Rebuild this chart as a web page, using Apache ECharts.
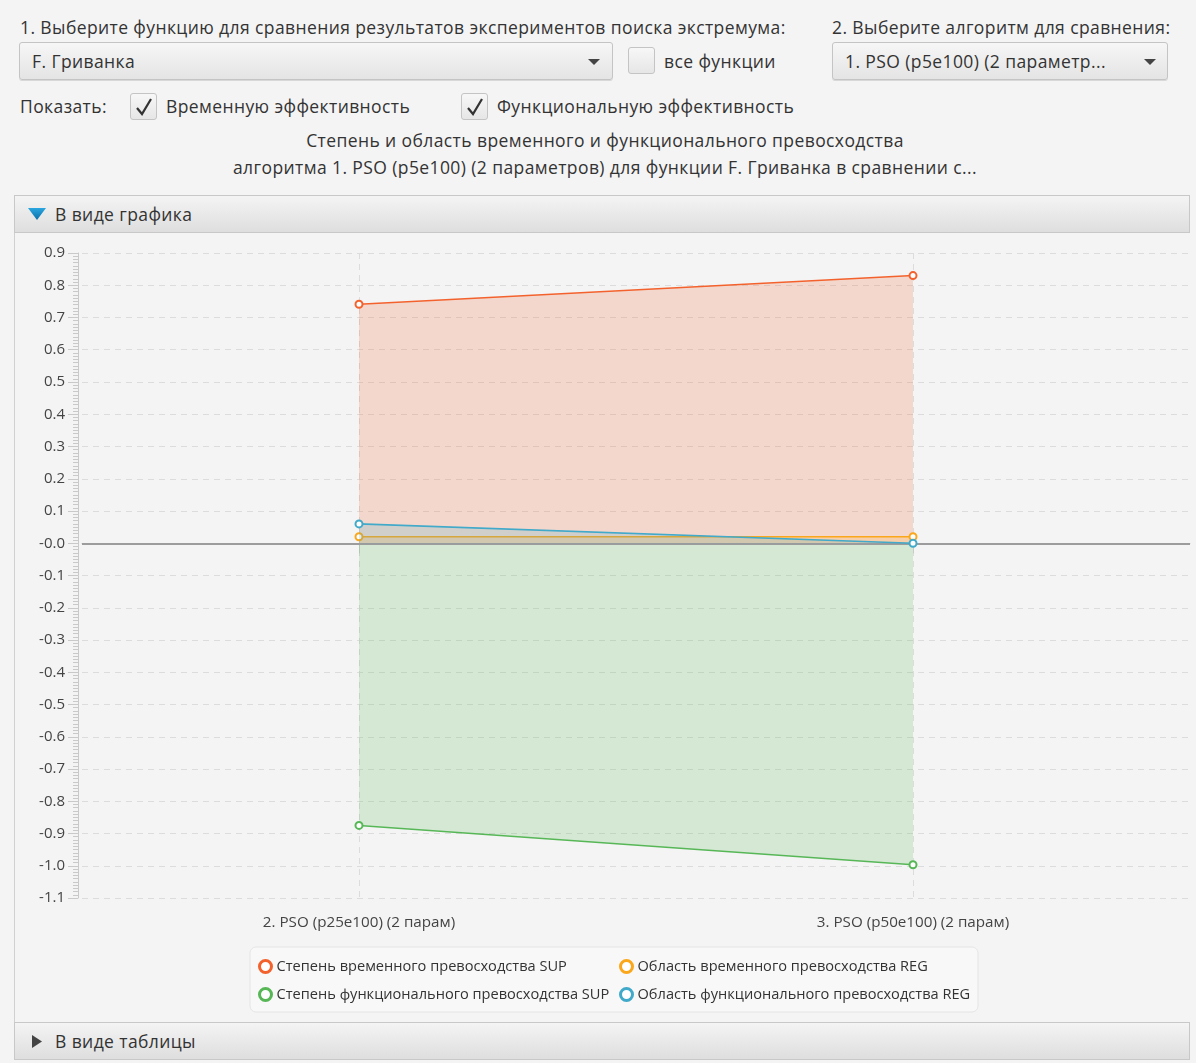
<!DOCTYPE html>
<html><head><meta charset="utf-8">
<script src="https://cdn.jsdelivr.net/npm/echarts@6/dist/echarts.min.js"></script>
<style>
html,body{margin:0;padding:0}
body{width:1196px;height:1063px;background:#f4f4f4;font-family:"Open Sans","Noto Sans",sans-serif;color:#333;overflow:hidden;position:relative}
.abs{position:absolute;white-space:nowrap}
.lbl{font-size:17.5px;line-height:22px;color:#333;letter-spacing:0.4px}
.combo{position:absolute;box-sizing:border-box;border:1px solid #c4c4c4;border-radius:3px;background:linear-gradient(#f6f6f6,#e4e4e4);box-shadow:0 1px 0 #d8d8d8}
.combo .t{position:absolute;left:12px;top:7px;font-size:17.5px;letter-spacing:0.4px;line-height:22px;color:#333;white-space:nowrap}
.combo .arr{position:absolute;top:16px;width:0;height:0;border-left:6px solid transparent;border-right:6px solid transparent;border-top:6px solid #444}
.cb{position:absolute;box-sizing:border-box;width:27px;height:27px;border:1px solid #c4c4c4;border-radius:3px;background:linear-gradient(#f7f7f7,#e6e6e6)}
.cb svg{position:absolute;left:4px;top:3px}
.hdr{position:absolute;left:14px;width:1176px;height:38px;box-sizing:border-box;border:1px solid #c8c8c8;background:linear-gradient(#f4f4f4,#dedede)}
.hdr .t{position:absolute;left:40px;top:7px;font-size:17.5px;letter-spacing:0.4px;line-height:22px;color:#333}
#chart{position:absolute;left:0;top:0;width:1196px;height:1063px}
</style></head>
<body>
<div class="abs" style="left:14px;top:233px;width:1176px;height:789px;border-left:1px solid #d0d0d0;box-sizing:border-box"></div>
<div class="abs lbl" style="left:20px;top:16px">1. Выберите функцию для сравнения результатов экспериментов поиска экстремума:</div>
<div class="abs lbl" style="left:832px;top:16px">2. Выберите алгоритм для сравнения:</div>
<div class="combo" style="left:19px;top:42px;width:594px;height:38px"><div class="t">F. Гриванка</div><div class="arr" style="left:568px"></div></div>
<div class="cb" style="left:628px;top:47px"></div>
<div class="abs lbl" style="left:664px;top:50px">все функции</div>
<div class="combo" style="left:832px;top:42px;width:336px;height:38px"><div class="t">1. PSO (p5e100) (2 параметр...</div><div class="arr" style="left:311px"></div></div>
<div class="abs lbl" style="left:20px;top:95px">Показать:</div>
<div class="cb" style="left:130px;top:93px"><svg width="18" height="20" viewBox="0 0 18 20"><polyline points="2,11 7,17 16,2" fill="none" stroke="#333" stroke-width="2.2"/></svg></div>
<div class="abs lbl" style="left:166px;top:95px">Временную эффективность</div>
<div class="cb" style="left:461px;top:93px"><svg width="18" height="20" viewBox="0 0 18 20"><polyline points="2,11 7,17 16,2" fill="none" stroke="#333" stroke-width="2.2"/></svg></div>
<div class="abs lbl" style="left:497px;top:95px">Функциональную эффективность</div>
<div class="abs lbl" style="left:0;width:1210px;text-align:center;top:129px">Степень и область временного и функционального превосходства</div>
<div class="abs lbl" style="left:0;width:1210px;text-align:center;top:156px">алгоритма 1. PSO (p5e100) (2 параметров) для функции F. Гриванка в сравнении с...</div>
<div class="hdr" style="top:195px"><svg class="abs" style="left:13px;top:12px" width="18" height="12" viewBox="0 0 18 12"><defs><linearGradient id="g" x1="0" y1="0" x2="0" y2="1"><stop offset="0" stop-color="#2aa6e0"/><stop offset="1" stop-color="#0a6fa8"/></linearGradient></defs><polygon points="0,0 18,0 9,12" fill="url(#g)"/></svg><div class="t">В виде графика</div></div>
<div class="hdr" style="top:1022px"><svg class="abs" style="left:17px;top:12px" width="10" height="13" viewBox="0 0 10 13"><polygon points="0,0 10,6.5 0,13" fill="#444"/></svg><div class="t">В виде таблицы</div></div>
<div id="chart"></div>
<script>
const categories = ['2. PSO (p25e100) (2 парам)', '3. PSO (p50e100) (2 парам)'];
const seriesNames = ['Степень временного превосходства SUP', 'Область временного превосходства REG', 'Степень функционального превосходства SUP', 'Область функционального превосходства REG'];
const timeSup = [0.741, 0.830];
const timeReg = [0.020, 0.020];
const funcSup = [-0.875, -0.997];
const funcReg = [0.060, 0.000];
const yTickLabels = ['-1.1','-1.0','-0.9','-0.8','-0.7','-0.6','-0.5','-0.4','-0.3','-0.2','-0.1','-0.0','0.1','0.2','0.3','0.4','0.5','0.6','0.7','0.8','0.9'];
const colors = ['#f3622d', '#fba71b', '#57b757', '#41a9c9'];

const chart = echarts.init(document.getElementById('chart'), null, {renderer: 'canvas'});
const dataSets = [timeSup, timeReg, funcSup, funcReg];
const series = dataSets.map((d, i) => ({
  name: seriesNames[i], type: 'line', data: d,
  symbol: 'emptyCircle', symbolSize: 7,
  itemStyle: {color: colors[i], borderWidth: 1.5},
  lineStyle: {color: colors[i], width: 1.6},
  areaStyle: {color: colors[i], opacity: 0.2, origin: 0},
  emphasis: {disabled: true},
  z: 2 + i
}));
series[3].markLine = {silent: true, symbol: 'none', label: {show: false},
  lineStyle: {color: '#9c9c9c', width: 2, type: 'solid'}, data: [{yAxis: 0}], animation: false};
const legendItem = (i) => ({name: seriesNames[i], icon: 'circle', itemStyle: {color: '#ffffff', borderColor: colors[i], borderWidth: 3}});
const legendCommon = {orient: 'vertical', itemWidth: 12, itemHeight: 12, itemGap: 13, padding: 0, selectedMode: false,
  textStyle: {fontFamily: 'Open Sans', fontSize: 14.6, color: '#333', lineHeight: 14}, top: 959};
chart.setOption({
  animation: false,
  textStyle: {fontFamily: 'Open Sans'},
  grid: {left: 82, right: 6, top: 253, bottom: 165, containLabel: false},
  graphic: [{type: 'rect', shape: {x: 250, y: 947, width: 728, height: 65, r: 6}, style: {fill: '#f8f8f8', stroke: '#e4e4e4', lineWidth: 1}, z: -1, silent: true}],
  legend: [
    Object.assign({left: 258, data: [legendItem(0), legendItem(2)]}, legendCommon),
    Object.assign({left: 619, data: [legendItem(1), legendItem(3)]}, legendCommon)
  ],
  xAxis: {type: 'category', data: categories, boundaryGap: true,
    axisLine: {show: true, lineStyle: {color: '#c9c9c9', width: 1}},
    axisTick: {show: true, alignWithLabel: true, length: 10, lineStyle: {color: '#c9c9c9'}},
    axisLabel: {fontSize: 15.2, color: '#444', margin: 17, fontFamily: 'Open Sans'},
    splitLine: {show: true, alignWithLabel: true, lineStyle: {color: '#dcdcdc', type: [6, 5]}}
  },
  yAxis: {type: 'value', min: -1.1, max: 0.9, interval: 0.1, offset: 4,
    axisLine: {show: true, lineStyle: {color: '#c9c9c9'}},
    axisTick: {show: true, length: 10, lineStyle: {color: '#c9c9c9'}},
    minorTick: {show: true, splitNumber: 10, length: 5, lineStyle: {color: '#c9c9c9'}},
    axisLabel: {fontSize: 15, color: '#444', margin: 13, fontFamily: 'Open Sans',
      formatter: (v) => yTickLabels[Math.round((v + 1.1) / 0.1)]},
    splitLine: {show: true, lineStyle: {color: '#dcdcdc', type: [6, 5]}}
  },
  series: series
});
</script>
</body></html>
